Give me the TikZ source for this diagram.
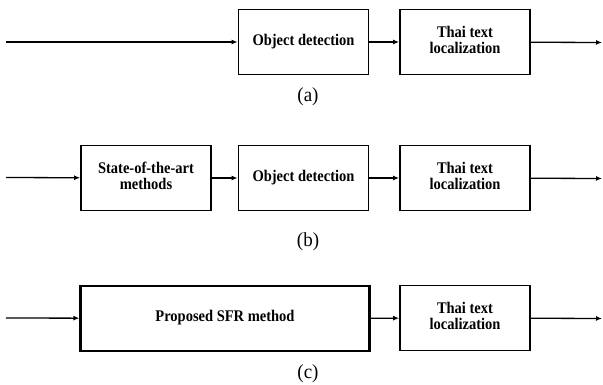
\documentclass[tikz,border=0pt]{standalone}
\usepackage{fontspec}
\setmainfont{Liberation Serif}
\usepackage{graphicx}
\usepackage{tikz}
\usetikzlibrary{positioning}
\usetikzlibrary{arrows.meta}
\tikzstyle{diagram} = [x = 1pt, y = -1pt]
\tikzstyle{blockStyle} = [draw, line width = 1.8pt, minimum width = 130pt, minimum height = 65pt, inner sep = 2pt, font = \fontsize{14.5}{14.3}\selectfont\bfseries]
\tikzstyle{wideBlockStyle} = [blockStyle, line width = 2.3pt, minimum width = 289pt]
\tikzstyle{flowLine} = [line width = 1.3pt, -{Latex[length = 6pt, width = 5pt]}]
\tikzstyle{captionText} = [font = \fontsize{19}{21}\selectfont]
\newcommand{\tallText}[1]{\scalebox{1}[1.12]{\begin{tabular}{@{}c@{}}#1\end{tabular}}}
\newcommand{\rowLabel}[3]{\node [captionText] (#1) at (308, #2) {\scalebox{1}[1.05]{(#3)}};}

\begin{document}
\begin{tikzpicture}[diagram]
  \useasboundingbox (0,0) rectangle (603,385);

  % (a)
  \coordinate (inA) at (6, 42);
  \coordinate (outA) at (602, 42.5);
  \node [blockStyle] (detectA) at (303.5, 42) {\tallText{Object detection}};
  \node [blockStyle] (thaiA) at (465, 42) {\tallText{Thai text\\localization}};
  \draw [flowLine] (inA) -- (detectA);
  \draw [flowLine] (detectA) -- (thaiA);
  \draw [flowLine] (thaiA) -- (outA);
  \rowLabel{labelA}{97}{a}

  % (b)
  \coordinate (inB) at (6, 177.5);
  \coordinate (outB) at (602, 178.5);
  \node [blockStyle] (stateB) at (146, 178) {\tallText{State-of-the-art\\methods}};
  \node [blockStyle] (detectB) at (303.5, 178) {\tallText{Object detection}};
  \node [blockStyle] (thaiB) at (465, 178) {\tallText{Thai text\\localization}};
  \draw [flowLine] (inB) -- (stateB);
  \draw [flowLine] (stateB) -- (detectB);
  \draw [flowLine] (detectB) -- (thaiB);
  \draw [flowLine] (thaiB) -- (outB);
  \rowLabel{labelB}{242}{b}

  % (c)
  \coordinate (inC) at (6, 318);
  \coordinate (outC) at (602, 318.5);
  \node [wideBlockStyle] (sfrC) at (225, 318.5) {\tallText{Proposed SFR method}};
  \node [blockStyle] (thaiC) at (465, 318) {\tallText{Thai text\\localization}};
  \draw [flowLine] (inC) -- (sfrC);
  \draw [flowLine] (sfrC) -- (thaiC);
  \draw [flowLine] (thaiC) -- (outC);
  \rowLabel{labelC}{374}{c}
\end{tikzpicture}
\end{document}
